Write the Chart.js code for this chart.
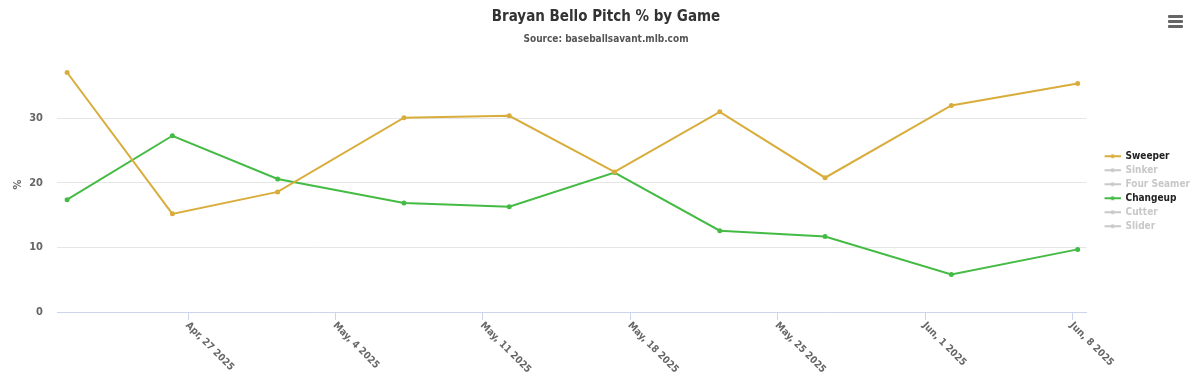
<html lang="en">
<head>
    <meta charset="UTF-8">
    <title>Brayan Bello Pitch % by Game</title>
    <script src="https://cdn.jsdelivr.net/npm/chart.js"></script>
    <style>
        body {
            margin: 0;
            background: #fff;
            font-family: Roboto, Arial, sans-serif;
        }
        #wrap {
            position: relative;
            width: 1200px;
            height: 375px;
        }
        #menu {
            position: absolute;
            left: 1168px;
            top: 15px;
            width: 15px;
        }
        #menu span {
            display: block;
            height: 3px;
            background: #666;
            margin-bottom: 2px;
            border-radius: 1px;
        }
    </style>
</head>
<body>
    <div id="wrap">
        <canvas id="pitchChart" width="1200" height="375"></canvas>
        <div id="menu"><span></span><span></span><span></span></div>
    </div>

    <script>
        // game dates and pitch usage (%)
        const gameDates = ['2025-04-21', '2025-04-26', '2025-05-01', '2025-05-07', '2025-05-12',
                           '2025-05-17', '2025-05-22', '2025-05-27', '2025-06-02', '2025-06-08'];
        const sweeper  = [37.1, 15.2, 18.6, 30.1, 30.4, 21.7, 31.0, 20.8, 32.0, 35.4];
        const changeup = [17.4, 27.3, 20.6, 16.9, 16.3, 21.6, 12.6, 11.7, 5.8, 9.7];

        // x axis ticks (weekly)
        const tickDates  = ['2025-04-27', '2025-05-04', '2025-05-11', '2025-05-18', '2025-05-25', '2025-06-01', '2025-06-08'];
        const tickLabels = ['Apr, 27 2025', 'May, 4 2025', 'May, 11 2025', 'May, 18 2025', 'May, 25 2025', 'Jun, 1 2025', 'Jun, 8 2025'];

        // series in the legend; only sweeper and changeup are shown
        const seriesNames  = ['Sweeper', 'Sinker', 'Four Seamer', 'Changeup', 'Cutter', 'Slider'];
        const seriesColors = ['#d9ad3c', '#c0c0c0', '#c0c0c0', '#44bb44', '#c0c0c0', '#c0c0c0'];
        const seriesValues = [sweeper, [], [], changeup, [], []];

        const DAY = 86400000;
        const toDay = d => Date.parse(d) / DAY;
        const GAME_OFFSET = 0.25; // points sit a few hours after midnight

        const condensed = "'Liberation Sans Narrow', 'DejaVu Sans Condensed', Roboto, sans-serif";

        // legend marker: short line with a dot, pushed to the right of a wider box
        const SYMBOL_BOX = 30;
        function legendSymbol(color) {
            const c = document.createElement('canvas');
            c.width = SYMBOL_BOX;
            c.height = 6;
            const g = c.getContext('2d');
            const x0 = SYMBOL_BOX - 16;
            g.strokeStyle = color;
            g.lineWidth = 2;
            g.beginPath();
            g.moveTo(x0, 3);
            g.lineTo(x0 + 16, 3);
            g.stroke();
            g.fillStyle = color;
            g.beginPath();
            g.arc(x0 + 8, 3, 2, 0, Math.PI * 2);
            g.fill();
            return c;
        }

        const datasets = seriesNames.map((name, i) => ({
            label: name,
            data: seriesValues[i].map((v, j) => ({ x: toDay(gameDates[j]) + GAME_OFFSET, y: v })),
            borderColor: seriesColors[i],
            backgroundColor: seriesColors[i],
            borderWidth: 2,
            pointRadius: 1.5,
            pointHoverRadius: 4,
            tension: 0,
            hidden: seriesValues[i].length === 0
        }));

        // rotated date labels under the x axis
        const dateLabels = {
            id: 'dateLabels',
            afterDraw(chart) {
                const ctx = chart.ctx;
                const xs = chart.scales.x;
                ctx.save();
                ctx.font = 'bold 10px ' + condensed;
                ctx.fillStyle = '#666';
                ctx.textBaseline = 'middle';
                ctx.textAlign = 'left';
                tickDates.forEach((d, i) => {
                    const px = xs.getPixelForValue(toDay(d));
                    ctx.save();
                    ctx.translate(px - 1, chart.chartArea.bottom + 12);
                    ctx.rotate(Math.PI / 4);
                    ctx.fillText(tickLabels[i], 0, 0);
                    ctx.restore();
                });
                ctx.restore();
            }
        };

        const ctx = document.getElementById('pitchChart').getContext('2d');
        const pitchChart = new Chart(ctx, {
            type: 'line',
            data: { datasets: datasets },
            plugins: [dateLabels],
            options: {
                responsive: false,
                animation: false,
                layout: {
                    padding: { left: 12, right: 0, top: 0, bottom: 55 }
                },
                plugins: {
                    title: {
                        display: true,
                        text: 'Brayan Bello Pitch % by Game',
                        color: '#333',
                        font: { family: condensed, size: 15, weight: 'bold' },
                        padding: { top: 8, bottom: 7 }
                    },
                    subtitle: {
                        display: true,
                        text: 'Source: baseballsavant.mlb.com',
                        color: '#555',
                        font: { family: condensed, size: 10, weight: 'bold' },
                        padding: { bottom: 12 }
                    },
                    legend: {
                        position: 'right',
                        align: 'center',
                        title: {
                            display: true,
                            text: '',
                            font: { size: 12 },
                            padding: { top: 48, bottom: 0 }
                        },
                        labels: {
                            usePointStyle: true,
                            pointStyleWidth: SYMBOL_BOX,
                            padding: 4,
                            font: { family: condensed, size: 10, weight: 'bold' },
                            generateLabels(chart) {
                                return chart.data.datasets.map((ds, i) => {
                                    const visible = chart.isDatasetVisible(i);
                                    return {
                                        text: ds.label,
                                        datasetIndex: i,
                                        hidden: false,
                                        fontColor: visible ? '#222' : '#c8c8c8',
                                        pointStyle: legendSymbol(visible ? ds.borderColor : '#c8c8c8'),
                                        fillStyle: ds.borderColor,
                                        strokeStyle: ds.borderColor,
                                        lineWidth: 0
                                    };
                                });
                            }
                        }
                    }
                },
                scales: {
                    x: {
                        type: 'linear',
                        min: toDay('2025-04-27') - 6.23,
                        max: toDay('2025-06-08') + 0.67,
                        afterBuildTicks(axis) {
                            axis.ticks = tickDates.map(d => ({ value: toDay(d) }));
                        },
                        ticks: { display: false },
                        grid: {
                            display: true,
                            drawOnChartArea: false,
                            color: '#ccd6eb',
                            tickLength: 8
                        },
                        border: { color: '#ccd6eb', width: 1 }
                    },
                    y: {
                        min: 0,
                        max: 39.5,
                        afterBuildTicks(axis) {
                            axis.ticks = [0, 10, 20, 30].map(v => ({ value: v }));
                        },
                        afterFit(axis) {
                            axis.width = 45;
                        },
                        title: {
                            display: true,
                            text: '%',
                            color: '#666',
                            font: { family: condensed, size: 11, weight: 'bold' },
                            padding: { top: 0, bottom: 6 }
                        },
                        ticks: {
                            color: '#666',
                            font: { family: condensed, size: 11, weight: 'bold' },
                            padding: 14
                        },
                        grid: { color: '#e6e6e6', drawTicks: false },
                        border: { display: false }
                    }
                }
            }
        });
    </script>
</body>
</html>
